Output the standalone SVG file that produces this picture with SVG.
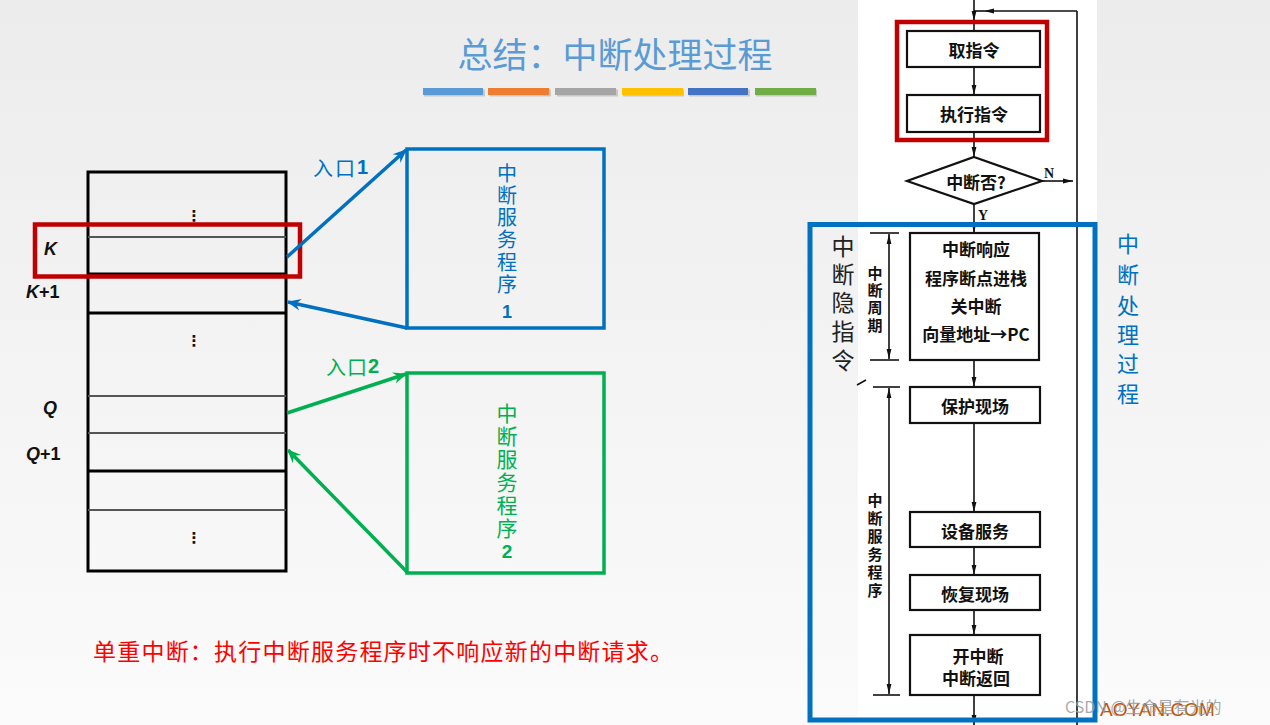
<svg xmlns="http://www.w3.org/2000/svg" width="1270" height="725" viewBox="0 0 1270 725">
<defs>
  <linearGradient id="bg" x1="0" y1="0" x2="0" y2="1">
    <stop offset="0" stop-color="#ececec"/>
    <stop offset="1" stop-color="#fbfbfb"/>
  </linearGradient>
  <marker id="fa" viewBox="0 0 10 6" refX="10" refY="3" markerWidth="10" markerHeight="6" orient="auto-start-reverse" markerUnits="userSpaceOnUse">
    <path d="M0,0.6 L10,3 L0,5.4 z" fill="#111"/>
  </marker>
  <marker id="ab" viewBox="0 0 12 12" refX="11" refY="6" markerWidth="14" markerHeight="14" orient="auto" markerUnits="userSpaceOnUse">
    <path d="M0,1 L12,6 L0,11 L4,6 z" fill="#0070c0"/>
  </marker>
  <marker id="ag" viewBox="0 0 12 12" refX="11" refY="6" markerWidth="14" markerHeight="14" orient="auto" markerUnits="userSpaceOnUse">
    <path d="M0,1 L12,6 L0,11 L4,6 z" fill="#00b050"/>
  </marker>
  <style>
    .cjk { font-family: "Noto Sans CJK SC", "Noto Sans", sans-serif; }
    .fl { font-family: "Noto Sans CJK SC", sans-serif; font-weight: bold; font-size: 17px; fill: #111; text-anchor: middle; dominant-baseline: central; }
    .bl { font-family: "Noto Sans CJK SC", sans-serif; font-weight: bold; font-size: 15px; fill: #111; text-anchor: middle; dominant-baseline: central; }
    .fbox { fill: #fff; stroke: #111; stroke-width: 2.2; }
    .fline { fill: none; stroke: #111; stroke-width: 1.6; }
    .mem { fill: none; stroke: #000; stroke-width: 3; }
    .memg { stroke: #555; stroke-width: 2.2; }
    .lbl { font-family: "Liberation Sans", "Noto Sans", sans-serif; font-weight: bold; font-style: italic; font-size: 18px; fill: #111; }
    .dots { font-family: "DejaVu Sans", sans-serif; font-weight: bold; font-size: 15px; fill: #111; text-anchor: middle; dominant-baseline: central; }
    .vt { text-anchor: middle; dominant-baseline: central; }
  </style>
</defs>

<rect x="0" y="0" width="1270" height="725" fill="url(#bg)"/>
<rect x="858" y="0" width="239" height="725" fill="#ffffff"/>

<!-- title -->
<g id="title">
  <text x="615" y="52" class="cjk" font-size="35" fill="#5b9bd5" text-anchor="middle" dominant-baseline="central">总结：中断处理过程</text>
  <g id="bars">
    <rect x="424" y="89.5" width="61" height="7" fill="#c8c8c8"/>
    <rect x="490" y="89.5" width="61" height="7" fill="#c8c8c8"/>
    <rect x="557" y="89.5" width="61" height="7" fill="#c8c8c8"/>
    <rect x="623" y="89.5" width="61" height="7" fill="#c8c8c8"/>
    <rect x="689" y="89.5" width="61" height="7" fill="#c8c8c8"/>
    <rect x="756" y="89.5" width="61" height="7" fill="#c8c8c8"/>
    <rect x="423" y="88" width="60" height="7" fill="#5b9bd5"/>
    <rect x="488" y="88" width="61" height="7" fill="#ed7d31"/>
    <rect x="555" y="88" width="61" height="7" fill="#a5a5a5"/>
    <rect x="622" y="88" width="61" height="7" fill="#ffc000"/>
    <rect x="688" y="88" width="60" height="7" fill="#4472c4"/>
    <rect x="755" y="88" width="61" height="7" fill="#70ad47"/>
  </g>
</g>

<!-- memory column -->
<g id="memory">
  <rect class="mem" x="88" y="172" width="198" height="399"/>
  <line class="memg" x1="88" y1="237" x2="286" y2="237"/>
  <line class="mem" x1="88" y1="274" x2="286" y2="274"/>
  <line class="mem" x1="88" y1="313" x2="286" y2="313"/>
  <line class="memg" x1="88" y1="396" x2="286" y2="396"/>
  <line class="memg" x1="88" y1="433" x2="286" y2="433"/>
  <line class="mem" x1="88" y1="471" x2="286" y2="471"/>
  <line class="memg" x1="88" y1="510" x2="286" y2="510"/>
  <text class="dots" x="194" y="216">⋮</text>
  <text class="dots" x="194" y="341">⋮</text>
  <text class="dots" x="194" y="538">⋮</text>
  <text class="lbl" x="44" y="255">K</text>
  <text class="lbl" x="26" y="298">K<tspan font-style="normal">+1</tspan></text>
  <text class="lbl" x="43" y="414">Q</text>
  <text class="lbl" x="26" y="460">Q<tspan font-style="normal">+1</tspan></text>
</g>

<g id="redK">
  <rect x="35" y="224.5" width="265" height="52" fill="none" stroke="#c00000" stroke-width="4.5"/>
</g>

<!-- ISR 1 -->
<g id="isr1">
  <rect x="407" y="149" width="197" height="179" fill="none" stroke="#0070c0" stroke-width="3.5"/>
  <text class="cjk vt" font-size="20" fill="#0070c0">
    <tspan x="507" y="172">中</tspan><tspan x="507" y="194">断</tspan><tspan x="507" y="216">服</tspan><tspan x="507" y="238">务</tspan><tspan x="507" y="261">程</tspan><tspan x="507" y="283">序</tspan>
  </text>
  <text x="507" y="312" font-family="Liberation Sans, sans-serif" font-weight="bold" font-size="18" fill="#0070c0" class="vt">1</text>
</g>

<!-- ISR 2 -->
<g id="isr2">
  <rect x="407" y="373" width="197" height="200" fill="none" stroke="#00b050" stroke-width="3.5"/>
  <text class="cjk vt" font-size="21" fill="#00b050">
    <tspan x="507" y="412">中</tspan><tspan x="507" y="435">断</tspan><tspan x="507" y="458">服</tspan><tspan x="507" y="481">务</tspan><tspan x="507" y="504">程</tspan><tspan x="507" y="527">序</tspan>
  </text>
  <text x="507" y="551" font-family="Liberation Sans, sans-serif" font-weight="bold" font-size="19" fill="#00b050" class="vt">2</text>
</g>

<!-- connectors on left -->
<g id="connectors-left">
  <line x1="287" y1="257" x2="406" y2="150" stroke="#0070c0" stroke-width="3.5" marker-end="url(#ab)"/>
  <line x1="407" y1="328" x2="288" y2="302" stroke="#0070c0" stroke-width="3.5" marker-end="url(#ab)"/>
  <line x1="287" y1="413" x2="406" y2="374" stroke="#00b050" stroke-width="3.5" marker-end="url(#ag)"/>
  <line x1="407" y1="572" x2="288" y2="450" stroke="#00b050" stroke-width="3.5" marker-end="url(#ag)"/>
  <text x="313" y="167" class="cjk" font-size="20" fill="#0070c0" dominant-baseline="central" letter-spacing="2">入口<tspan font-family="Liberation Sans, sans-serif" font-weight="bold">1</tspan></text>
  <text x="326" y="366" class="cjk" font-size="20" fill="#00b050" dominant-baseline="central" letter-spacing="1">入口<tspan font-family="Liberation Sans, sans-serif" font-weight="bold">2</tspan></text>
</g>

<g id="note">
  <text x="93" y="650" class="cjk" font-size="23" fill="#ff0000" dominant-baseline="central" textLength="580" lengthAdjust="spacing">单重中断：执行中断服务程序时不响应新的中断请求。</text>
</g>

<!-- flowchart connectors -->
<g id="flow-connectors">
  <line class="fline" x1="974" y1="0" x2="974" y2="21" marker-end="url(#fa)"/>
  <line class="fline" x1="974" y1="21" x2="974" y2="31"/>
  <line class="fline" x1="1077" y1="11" x2="984" y2="11" marker-end="url(#fa)"/>
  <line class="fline" x1="984" y1="11" x2="974" y2="11"/>
  <line class="fline" x1="1077" y1="11" x2="1077" y2="725"/>
  <line class="fline" x1="974" y1="67" x2="974" y2="95" marker-end="url(#fa)"/>
  <line class="fline" x1="974" y1="132" x2="974" y2="157" marker-end="url(#fa)"/>
  <line class="fline" x1="1042" y1="181" x2="1073" y2="181" marker-end="url(#fa)"/>
  <line class="fline" x1="974" y1="204" x2="974" y2="233" marker-end="url(#fa)"/>
  <line class="fline" x1="974" y1="360" x2="974" y2="387" marker-end="url(#fa)"/>
  <line class="fline" x1="974" y1="423" x2="974" y2="512" marker-end="url(#fa)"/>
  <line class="fline" x1="974" y1="547" x2="974" y2="575" marker-end="url(#fa)"/>
  <line class="fline" x1="974" y1="610" x2="974" y2="635" marker-end="url(#fa)"/>
  <line class="fline" x1="974" y1="695" x2="974" y2="725" marker-end="url(#fa)"/>
  <!-- brackets -->
  <line class="fline" x1="870" y1="233" x2="899" y2="233"/>
  <line class="fline" x1="870" y1="360" x2="899" y2="360"/>
  <line class="fline" x1="889" y1="234" x2="889" y2="359" marker-start="url(#fa)" marker-end="url(#fa)"/>
  <line class="fline" x1="873" y1="387" x2="900" y2="387"/>
  <line class="fline" x1="873" y1="695" x2="900" y2="695"/>
  <line class="fline" x1="889" y1="388" x2="889" y2="694" marker-start="url(#fa)" marker-end="url(#fa)"/>
  <line class="fline" x1="857" y1="385" x2="866" y2="380"/>
  <text x="1044" y="173" font-family="Liberation Serif, serif" font-weight="bold" font-size="14" fill="#111" dominant-baseline="central">N</text>
  <text x="978" y="215" font-family="Liberation Serif, serif" font-weight="bold" font-size="14" fill="#111" dominant-baseline="central">Y</text>
</g>

<!-- flowchart nodes -->
<g id="n-fetch">
  <rect class="fbox" x="907" y="31" width="133" height="36"/>
  <text class="fl" x="974" y="49">取指令</text>
</g>
<g id="n-exec">
  <rect class="fbox" x="907" y="95" width="133" height="37"/>
  <text class="fl" x="974" y="113">执行指令</text>
</g>
<g id="n-decide">
  <polygon class="fbox" points="974,157 1042,181 974,204 907,181"/>
  <text class="fl" x="976" y="181">中断否?</text>
</g>
<g id="n-response">
  <rect class="fbox" x="910" y="233" width="129" height="127"/>
  <text class="fl" x="976" y="248">中断响应</text>
  <text class="fl" x="976" y="277">程序断点进栈</text>
  <text class="fl" x="976" y="305">关中断</text>
  <text class="fl" x="976" y="333">向量地址→PC</text>
</g>
<g id="n-save">
  <rect class="fbox" x="910" y="387" width="130" height="36"/>
  <text class="fl" x="975" y="405">保护现场</text>
</g>
<g id="n-service">
  <rect class="fbox" x="910" y="512" width="130" height="35"/>
  <text class="fl" x="975" y="530">设备服务</text>
</g>
<g id="n-restore">
  <rect class="fbox" x="910" y="575" width="130" height="35"/>
  <text class="fl" x="975" y="593">恢复现场</text>
</g>
<g id="n-return">
  <rect class="fbox" x="910" y="635" width="130" height="60"/>
  <text class="fl" x="978" y="655">开中断</text>
  <text class="fl" x="976" y="677">中断返回</text>
</g>

<g id="bracket-labels">
  <text class="bl">
    <tspan x="875" y="272">中</tspan><tspan x="875" y="289">断</tspan><tspan x="875" y="306">周</tspan><tspan x="875" y="324">期</tspan>
  </text>
  <text class="bl">
    <tspan x="875" y="499">中</tspan><tspan x="875" y="517">断</tspan><tspan x="875" y="535">服</tspan><tspan x="875" y="553">务</tspan><tspan x="875" y="571">程</tspan><tspan x="875" y="589">序</tspan>
  </text>
  <text class="cjk vt" font-size="23" fill="#222">
    <tspan x="843" y="245">中</tspan><tspan x="843" y="273">断</tspan><tspan x="843" y="301">隐</tspan><tspan x="843" y="330">指</tspan><tspan x="843" y="359">令</tspan>
  </text>
</g>

<g id="red-fetch">
  <rect x="897" y="22" width="150" height="118" fill="none" stroke="#c00000" stroke-width="4.5"/>
</g>

<g id="isr-process">
  <rect x="810" y="224.5" width="285" height="495.5" fill="none" stroke="#0070c0" stroke-width="5"/>
  <text class="cjk vt" font-size="22" fill="#0070c0">
    <tspan x="1128" y="242">中</tspan><tspan x="1128" y="273">断</tspan><tspan x="1128" y="304">处</tspan><tspan x="1128" y="333">理</tspan><tspan x="1128" y="362">过</tspan><tspan x="1128" y="392">程</tspan>
  </text>
</g>

<g id="watermark">
  <text x="1100" y="709" font-family="Liberation Sans, sans-serif" font-size="19" fill="#c85000" dominant-baseline="central">AOYAN.COM</text>
  <text x="1065" y="706" class="cjk" font-size="16" fill="#999" fill-opacity="0.85" dominant-baseline="central">CSDN @生命是有光的</text>
</g>
</svg>
